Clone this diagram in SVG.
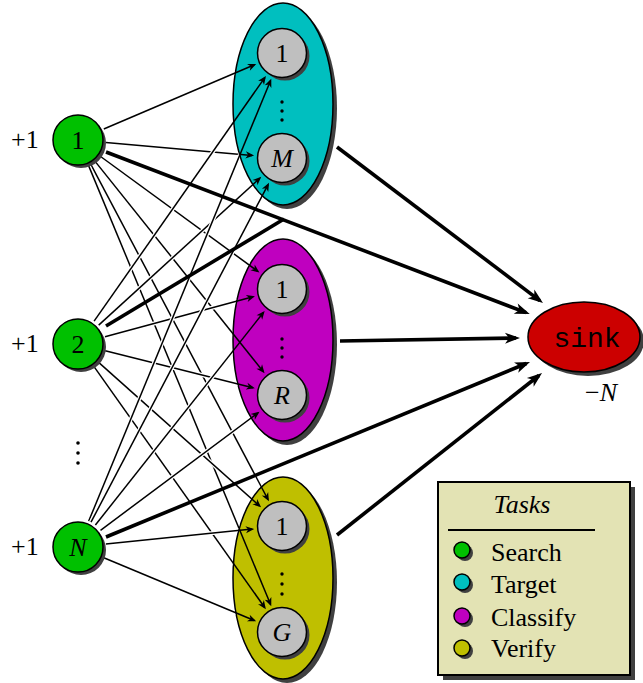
<svg xmlns="http://www.w3.org/2000/svg" width="643" height="683" viewBox="0 0 643 683">
<style>
.sh{fill:#404040}
.nd{stroke:#000;stroke-width:1.5}
.src{fill:#00c000}
.inner{fill:#bfbfbf}
.lbl{font-size:26px;fill:#000;text-anchor:middle}
.it{font-style:italic}
.plus{font-size:26px;fill:#000}
.halo{stroke:#fff;stroke-width:4;fill:none}
.thin{stroke:#000;stroke-width:1.5;fill:none;marker-end:url(#ah)}
.thick{stroke:#000;stroke-width:3.6;fill:none}
.thickA{marker-end:url(#AH)}
.leg{font-size:26px;fill:#000}
.dot{fill:#000}
</style>
<defs>
<marker id="ah" markerUnits="userSpaceOnUse" viewBox="-9 -5 13 10" markerWidth="13" markerHeight="10" refX="0" refY="0" orient="auto">
<path d="M2,0 L-6.5,-3.6 L-4,0 L-6.5,3.6 Z" fill="#000"/>
</marker>
<marker id="AH" markerUnits="userSpaceOnUse" viewBox="-12 -7 18 14" markerWidth="18" markerHeight="14" refX="0" refY="0" orient="auto">
<path d="M4,0 L-11,-5.5 L-7,0 L-11,5.5 Z" fill="#000"/>
</marker>
<mask id="noEll" maskUnits="userSpaceOnUse" x="0" y="0" width="643" height="683">
<rect x="0" y="0" width="643" height="683" fill="#fff"/>
<ellipse cx="283" cy="104" rx="51" ry="102" fill="#000"/>
<ellipse cx="283" cy="340" rx="51" ry="102" fill="#000"/>
<ellipse cx="283" cy="578" rx="51" ry="102" fill="#000"/>
</mask>
</defs>
<g font-family="Liberation Serif, DejaVu Serif, Times New Roman, serif">
<g id="target">
<ellipse class="sh" cx="287" cy="108" rx="50" ry="101"/>
<ellipse class="nd" cx="283" cy="104" rx="50" ry="101" fill="#00bfbf"/>
<circle class="dot" cx="282" cy="102" r="1.7"/><circle class="dot" cx="282" cy="111" r="1.7"/><circle class="dot" cx="282" cy="120" r="1.7"/>
</g>
<g id="classify">
<ellipse class="sh" cx="287" cy="344" rx="50" ry="101"/>
<ellipse class="nd" cx="283" cy="340" rx="50" ry="101" fill="#bf00bf"/>
<circle class="dot" cx="282" cy="339" r="1.7"/><circle class="dot" cx="282" cy="348" r="1.7"/><circle class="dot" cx="282" cy="357" r="1.7"/>
</g>
<g id="verify">
<ellipse class="sh" cx="287" cy="582" rx="50" ry="101"/>
<ellipse class="nd" cx="283" cy="578" rx="50" ry="101" fill="#bfbf00"/>
<circle class="dot" cx="282" cy="574" r="1.7"/><circle class="dot" cx="282" cy="584" r="1.7"/><circle class="dot" cx="282" cy="594" r="1.7"/>
</g>

<g id="connectors">
<path class="halo" mask="url(#noEll)" d="M103.8,129 L254.4,64.8"/><path class="thin" d="M103.8,129 L254.4,64.8"/>
<path class="halo" mask="url(#noEll)" d="M105.9,142.5 L252.1,155.4"/><path class="thin" d="M105.9,142.5 L252.1,155.4"/>
<path class="halo" mask="url(#noEll)" d="M100.6,156.5 L257.8,271.3"/><path class="thin" d="M100.6,156.5 L257.8,271.3"/>
<path class="halo" mask="url(#noEll)" d="M95.5,161.9 L263.3,371.6"/><path class="thin" d="M95.5,161.9 L263.3,371.6"/>
<path class="halo" mask="url(#noEll)" d="M91.1,164.8 L268,499.5"/><path class="thin" d="M91.1,164.8 L268,499.5"/>
<path class="halo" mask="url(#noEll)" d="M88.7,165.9 L270.5,604.3"/><path class="thin" d="M88.7,165.9 L270.5,604.3"/>
<path class="halo" mask="url(#noEll)" d="M94.1,321.1 L264.8,77.6"/><path class="thin" d="M94.1,321.1 L264.8,77.6"/>
<path class="halo" mask="url(#noEll)" d="M98.7,325.1 L259.8,178.2"/><path class="thin" d="M98.7,325.1 L259.8,178.2"/>
<path class="halo" mask="url(#noEll)" d="M105,336.7 L253,296.8"/><path class="thin" d="M105,336.7 L253,296.8"/>
<path class="halo" mask="url(#noEll)" d="M105.2,350.8 L252.9,387.7"/><path class="thin" d="M105.2,350.8 L252.9,387.7"/>
<path class="halo" mask="url(#noEll)" d="M98.9,362.6 L259.6,506"/><path class="thin" d="M98.9,362.6 L259.6,506"/>
<path class="halo" mask="url(#noEll)" d="M94.2,366.9 L264.7,607.5"/><path class="thin" d="M94.2,366.9 L264.7,607.5"/>
<path class="halo" mask="url(#noEll)" d="M88.7,521.1 L270.5,80.7"/><path class="thin" d="M88.7,521.1 L270.5,80.7"/>
<path class="halo" mask="url(#noEll)" d="M91,522.2 L268.1,184.6"/><path class="thin" d="M91,522.2 L268.1,184.6"/>
<path class="halo" mask="url(#noEll)" d="M95.4,525 L263.4,312.5"/><path class="thin" d="M95.4,525 L263.4,312.5"/>
<path class="halo" mask="url(#noEll)" d="M100.5,530.3 L257.9,412.9"/><path class="thin" d="M100.5,530.3 L257.9,412.9"/>
<path class="halo" mask="url(#noEll)" d="M105.9,544.1 L252.2,529.1"/><path class="thin" d="M105.9,544.1 L252.2,529.1"/>
<path class="halo" mask="url(#noEll)" d="M103.8,557.8 L254.3,620.5"/><path class="thin" d="M103.8,557.8 L254.3,620.5"/>

<path class="thick" d="M106,326 L284,219"/>
<path class="thick thickA" d="M106,152 L526,312.6"/>
<path class="thick thickA" d="M337,147 L539.8,300.6"/>
<path class="thick thickA" d="M340,341 L516,338"/>
<path class="thick thickA" d="M106,537 L526.3,363.5"/>
<path class="thick thickA" d="M337,535 L538.9,375.5"/>
</g>

<g id="target-1"><circle class="sh" cx="285" cy="56" r="24.5"/><circle class="nd inner" cx="282" cy="53" r="24.5"/><text class="lbl" x="282" y="62">1</text></g>
<g id="target-M"><circle class="sh" cx="285" cy="161" r="24.5"/><circle class="nd inner" cx="282" cy="158" r="24.5"/><text class="lbl it" x="282" y="167">M</text></g>
<g id="classify-1"><circle class="sh" cx="285" cy="292" r="24.5"/><circle class="nd inner" cx="282" cy="289" r="24.5"/><text class="lbl" x="282" y="298">1</text></g>
<g id="classify-R"><circle class="sh" cx="285" cy="398" r="24.5"/><circle class="nd inner" cx="282" cy="395" r="24.5"/><text class="lbl it" x="282" y="404">R</text></g>
<g id="verify-1"><circle class="sh" cx="285" cy="529" r="24.5"/><circle class="nd inner" cx="282" cy="526" r="24.5"/><text class="lbl" x="282" y="535">1</text></g>
<g id="verify-G"><circle class="sh" cx="285" cy="635" r="24.5"/><circle class="nd inner" cx="282" cy="632" r="24.5"/><text class="lbl it" x="282" y="641">G</text></g>

<g id="search-1"><circle class="sh" cx="81" cy="143" r="25"/><circle class="nd src" cx="78" cy="140" r="25"/><text class="lbl" x="78" y="149">1</text><text class="plus" x="11" y="148">+1</text></g>
<g id="search-2"><circle class="sh" cx="81" cy="347" r="25"/><circle class="nd src" cx="78" cy="344" r="25"/><text class="lbl" x="78" y="353">2</text><text class="plus" x="11" y="352">+1</text></g>
<g id="search-dots"><circle class="dot" cx="78" cy="443" r="1.8"/><circle class="dot" cx="78" cy="453" r="1.8"/><circle class="dot" cx="78" cy="463" r="1.8"/></g>
<g id="search-N"><circle class="sh" cx="81" cy="550" r="25"/><circle class="nd src" cx="78" cy="547" r="25"/><text class="lbl it" x="78" y="556">N</text><text class="plus" x="11" y="555">+1</text></g>

<g id="sink">
<ellipse class="sh" cx="588" cy="341" rx="56" ry="35"/>
<ellipse class="nd" cx="584" cy="337" rx="56" ry="35" fill="#cc0000"/>
<text x="587" y="347" font-family="Liberation Mono, DejaVu Sans Mono, monospace" font-size="28" text-anchor="middle" fill="#000">sink</text>
<text x="585" y="401" class="plus"><tspan>−</tspan><tspan font-style="italic">N</tspan></text>
</g>

<g id="legend">
<rect class="sh" x="443" y="487" width="192" height="193"/>
<rect x="438" y="482" width="192" height="193" fill="#e3e3b4" stroke="#000" stroke-width="2"/>
<text class="leg it" x="522" y="513" text-anchor="middle">Tasks</text>
<line x1="448" y1="530" x2="595" y2="530" stroke="#000" stroke-width="2"/>
<circle class="sh" cx="465" cy="553" r="8"/><circle class="nd" cx="462" cy="550" r="8" fill="#00c000"/>
<circle class="sh" cx="465" cy="585" r="8"/><circle class="nd" cx="462" cy="582" r="8" fill="#00bfbf"/>
<circle class="sh" cx="465" cy="619" r="8"/><circle class="nd" cx="462" cy="616" r="8" fill="#bf00bf"/>
<circle class="sh" cx="465" cy="651" r="8"/><circle class="nd" cx="462" cy="648" r="8" fill="#bfbf00"/>
<text class="leg" x="491" y="561">Search</text>
<text class="leg" x="491" y="593">Target</text>
<text class="leg" x="491" y="626">Classify</text>
<text class="leg" x="491" y="657">Verify</text>
</g>
</g>
</svg>
